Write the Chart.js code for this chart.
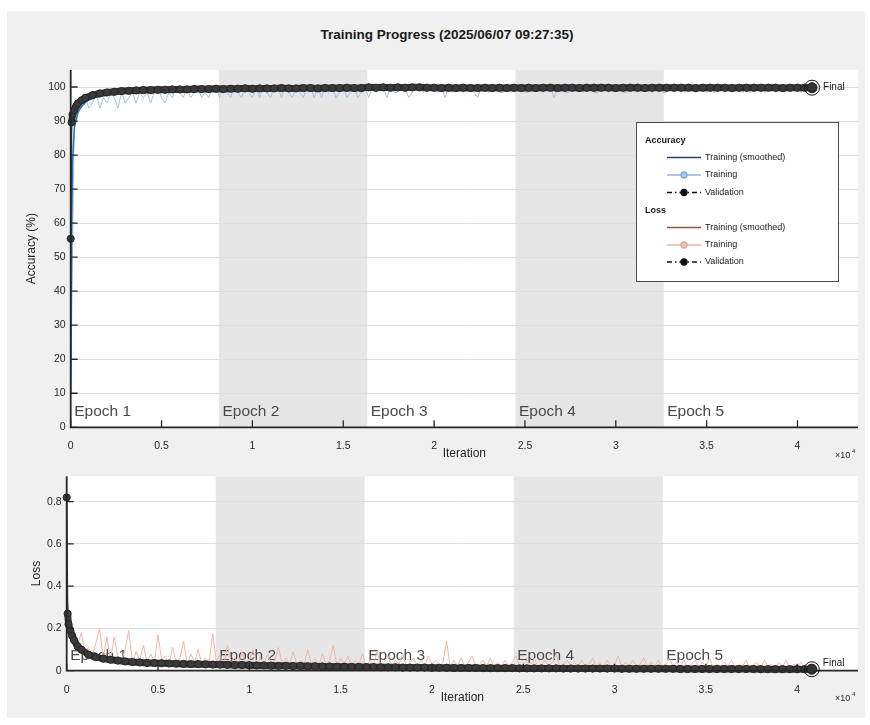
<!DOCTYPE html>
<html>
<head>
<meta charset="utf-8">
<script src="https://cdn.jsdelivr.net/npm/chart.js@4.4.1/dist/chart.umd.min.js"></script>
<style>
  body { margin: 0; width: 870px; height: 725px; background: #ffffff; position: relative; overflow: hidden; font-family: "Liberation Sans", Arial, sans-serif; }
  #panel { position: absolute; left: 7px; top: 11px; width: 858px; height: 707px; background: #f0f0f0; }
  #title { position: absolute; left: 0; top: 27px; width: 894px; text-align: center; font-weight: bold; font-size: 13.5px; line-height: 16px; color: #1a1a1a; }
  #accChart { position: absolute; left: 0; top: 0; }
  #lossChart { position: absolute; left: 0; top: 465px; }
</style>
</head>
<body>
<div id="panel"></div>
<div id="title">Training Progress (2025/06/07 09:27:35)</div>
<canvas id="accChart" width="870" height="465"></canvas>
<canvas id="lossChart" width="870" height="255"></canvas>
<script>
// iterations
const X_MAX = 43330;
const RAW_STEP = 200;
const epochStarts = [0, 8160, 16320, 24480, 32640];
const epochNames = ['Epoch 1', 'Epoch 2', 'Epoch 3', 'Epoch 4', 'Epoch 5'];
const finalIter = 40800;

// tick positions
const iterTicks = [0, 5000, 10000, 15000, 20000, 25000, 30000, 35000, 40000];
const accTicks = [0, 10, 20, 30, 40, 50, 60, 70, 80, 90, 100];
const lossTicks = [0, 0.2, 0.4, 0.6, 0.8];

// mini-batch accuracy (%), one value every RAW_STEP iterations
const trainAcc = [
  9.4, 92.2, 95.3, 93.8, 96.9, 93.8, 95.3, 98.4, 93.8, 96.9, 95.3, 98.4, 96.9, 93.8, 98.4, 95.3, 96.9, 98.4, 95.3, 98.4,
  96.9, 98.4, 95.3, 98.4, 100, 96.9, 95.3, 98.4, 96.9, 100, 98.4, 96.9, 100, 96.9, 98.4, 100, 96.9, 98.4, 96.9, 100,
  100, 96.9, 100, 98.4, 96.9, 100, 98.4, 96.9, 100, 98.4, 96.9, 100, 96.9, 100, 98.4, 96.9, 100, 100, 96.9, 100,
  98.4, 96.9, 100, 98.4, 96.9, 100, 100, 96.9, 100, 96.9, 100, 98.4, 100, 96.9, 98.4, 100, 96.9, 98.4, 100, 96.9,
  98.4, 100, 96.9, 100, 98.4, 100, 100, 96.9, 100, 98.4, 98.4, 100, 100, 96.9, 98.4, 100, 100, 98.4, 100, 100,
  100, 98.4, 100, 96.9, 100, 98.4, 100, 100, 98.4, 100, 100, 98.4, 96.9, 100, 100, 98.4, 100, 100, 98.4, 98.4,
  100, 100, 98.4, 100, 100, 98.4, 98.4, 100, 100, 100, 98.4, 100, 100, 96.9, 100, 100, 98.4, 98.4, 100, 100,
  100, 98.4, 100, 100, 98.4, 98.4, 100, 100, 98.4, 100, 100, 100, 98.4, 98.4, 100, 100, 98.4, 100, 100, 100,
  98.4, 100, 100, 98.4, 98.4, 100, 100, 100, 100, 98.4, 100, 100, 98.4, 100, 100, 98.4, 100, 98.4, 100, 100,
  100, 100, 98.4, 100, 100, 98.4, 100, 98.4, 100, 100, 100, 98.4, 100, 100, 98.4, 100, 98.4, 100, 100, 100,
  100, 98.4, 100, 100, 100
];

// mini-batch loss, same iterations
const trainLoss = [
  0.38, 0.21, 0.15, 0.12, 0.18, 0.09, 0.11, 0.07, 0.13, 0.2, 0.06, 0.16, 0.05, 0.16, 0.07, 0.05, 0.1, 0.19, 0.04, 0.09,
  0.05, 0.12, 0.04, 0.08, 0.04, 0.17, 0.05, 0.07, 0.03, 0.11, 0.04, 0.06, 0.14, 0.03, 0.08, 0.04, 0.1, 0.03, 0.06, 0.04,
  0.175, 0.04, 0.08, 0.03, 0.12, 0.04, 0.06, 0.03, 0.09, 0.03, 0.05, 0.1, 0.03, 0.06, 0.03, 0.08, 0.03, 0.05, 0.11, 0.03,
  0.06, 0.03, 0.09, 0.03, 0.05, 0.03, 0.1, 0.03, 0.06, 0.02, 0.08, 0.03, 0.05, 0.12, 0.02, 0.06, 0.03, 0.07, 0.02, 0.05,
  0.03, 0.08, 0.02, 0.05, 0.03, 0.09, 0.02, 0.04, 0.07, 0.02, 0.05, 0.03, 0.08, 0.02, 0.04, 0.06, 0.02, 0.05, 0.02, 0.07,
  0.03, 0.05, 0.02, 0.04, 0.14, 0.02, 0.05, 0.02, 0.06, 0.02, 0.04, 0.07, 0.02, 0.03, 0.05, 0.02, 0.06, 0.02, 0.04, 0.02,
  0.05, 0.02, 0.04, 0.07, 0.02, 0.03, 0.05, 0.02, 0.06, 0.02, 0.03, 0.05, 0.02, 0.04, 0.08, 0.02, 0.03, 0.05, 0.02, 0.04,
  0.02, 0.05, 0.02, 0.03, 0.06, 0.02, 0.04, 0.02, 0.05, 0.02, 0.03, 0.07, 0.02, 0.04, 0.02, 0.05, 0.02, 0.03, 0.06, 0.02,
  0.04, 0.02, 0.05, 0.02, 0.03, 0.06, 0.02, 0.04, 0.02, 0.05, 0.01, 0.03, 0.05, 0.02, 0.04, 0.02, 0.06, 0.01, 0.03, 0.02,
  0.04, 0.02, 0.05, 0.01, 0.03, 0.02, 0.05, 0.01, 0.03, 0.04, 0.01, 0.05, 0.02, 0.03, 0.01, 0.04, 0.02, 0.05, 0.01, 0.03,
  0.02, 0.04, 0.01, 0.03, 0.02
];

// smoothed training curves
const smoothIter = [0, 50, 100, 200, 400, 600, 800, 1000, 1500, 2000, 3000, 4000, 6000, 8000, 12000, 16000, 20000, 24000, 28000, 32000, 36000, 40800];
const smoothAcc = [10, 55, 78, 88, 92.5, 94.3, 95.4, 96.2, 97.3, 97.9, 98.5, 98.8, 99.1, 99.3, 99.4, 99.5, 99.55, 99.6, 99.6, 99.65, 99.7, 99.7];
const smoothLoss = [0.36, 0.3, 0.26, 0.21, 0.16, 0.13, 0.11, 0.095, 0.075, 0.062, 0.05, 0.043, 0.035, 0.03, 0.024, 0.02, 0.017, 0.015, 0.013, 0.012, 0.011, 0.01];

// validation: a few early checks, then every 400 iterations
const valIter = [0, 50, 100, 200, 300, 400, 600, 800].concat(Array.from({ length: 100 }, (_, i) => 1200 + i * 400));
const valAcc = [
  55.4, 89.6, 91.9, 93.2, 94.4, 95.2, 96.1, 96.8,
  97.6, 98.1, 98.4, 98.6, 98.8, 98.9, 99.0, 99.1, 99.1, 99.2,
  99.2, 99.3, 99.3, 99.3, 99.4, 99.4, 99.4, 99.5, 99.4, 99.5,
  99.5, 99.6, 99.5, 99.6, 99.6, 99.6, 99.7, 99.6, 99.6, 99.7,
  99.7, 99.6, 99.7, 99.7, 99.7, 99.8, 99.7, 99.7, 99.9, 99.8,
  99.9, 99.8, 99.9, 99.8, 99.9, 99.9, 99.8, 99.8, 99.7, 99.8,
  99.7, 99.8, 99.7, 99.7, 99.8, 99.7, 99.8, 99.7, 99.8, 99.7,
  99.8, 99.7, 99.8, 99.8, 99.7, 99.8, 99.8, 99.7, 99.8, 99.8,
  99.8, 99.8, 99.7, 99.8, 99.8, 99.8, 99.7, 99.8, 99.8, 99.8,
  99.8, 99.8, 99.8, 99.7, 99.8, 99.8, 99.8, 99.8, 99.7, 99.8,
  99.8, 99.8, 99.8, 99.8, 99.8, 99.7, 99.8, 99.8, 99.8, 99.8
];
const valLoss = [
  0.82, 0.27, 0.22, 0.19, 0.165, 0.145, 0.115, 0.1,
  0.075, 0.064, 0.057, 0.052, 0.048, 0.044, 0.041, 0.039, 0.037, 0.036,
  0.035, 0.034, 0.033, 0.032, 0.031, 0.031, 0.03, 0.029, 0.029, 0.028,
  0.027, 0.027, 0.026, 0.025, 0.025, 0.024, 0.023, 0.023, 0.022, 0.022,
  0.021, 0.021, 0.02, 0.02, 0.019, 0.019, 0.018, 0.018, 0.017, 0.017,
  0.016, 0.016, 0.016, 0.015, 0.015, 0.015, 0.015, 0.014, 0.014, 0.014,
  0.013, 0.013, 0.013, 0.013, 0.012, 0.012, 0.012, 0.012, 0.012, 0.011,
  0.011, 0.011, 0.011, 0.011, 0.011, 0.01, 0.01, 0.01, 0.01, 0.01,
  0.01, 0.01, 0.01, 0.009, 0.009, 0.009, 0.009, 0.009, 0.009, 0.009,
  0.009, 0.008, 0.008, 0.008, 0.008, 0.008, 0.008, 0.008, 0.008, 0.008,
  0.008, 0.008, 0.007, 0.007, 0.007, 0.007, 0.007, 0.007, 0.007, 0.007
];

const rawIter = trainAcc.map((_, i) => i * RAW_STEP);
const pts = (xs, ys) => ys.map((y, i) => ({ x: xs[i], y: y }));

const FONT = '"Liberation Sans", Arial, sans-serif';
Chart.defaults.font.family = FONT;

// legend box drawn by hand (MATLAB style)
function drawLegend(ctx) {
  ctx.save();
  ctx.fillStyle = '#ffffff';
  ctx.strokeStyle = '#4d4d4d';
  ctx.lineWidth = 1;
  ctx.fillRect(636, 122, 202, 159);
  ctx.strokeRect(636.5, 122.5, 202, 159);
  ctx.textBaseline = 'middle';
  const rows = [
    { head: 'Accuracy', y: 141 },
    { text: 'Training (smoothed)', y: 157.5, color: '#23456e' },
    { text: 'Training', y: 175, color: '#8fb6dc', marker: '#a9cdea', mEdge: '#7ea9d2' },
    { text: 'Validation', y: 192.5, color: '#111111', marker: '#111111', dash: true },
    { head: 'Loss', y: 210.5 },
    { text: 'Training (smoothed)', y: 227.5, color: '#8f5a3e' },
    { text: 'Training', y: 245, color: '#e6b7a6', marker: '#f2c2b0', mEdge: '#e0a891' },
    { text: 'Validation', y: 262, color: '#111111', marker: '#111111', dash: true }
  ];
  rows.forEach(r => {
    if (r.head) {
      ctx.font = 'bold 9px ' + FONT;
      ctx.fillStyle = '#1a1a1a';
      ctx.fillText(r.head, 645, r.y);
      return;
    }
    ctx.strokeStyle = r.color;
    ctx.lineWidth = 1.3;
    ctx.setLineDash(r.dash ? [5, 3, 1.5, 3] : []);
    ctx.beginPath();
    ctx.moveTo(667, r.y);
    ctx.lineTo(701, r.y);
    ctx.stroke();
    ctx.setLineDash([]);
    if (r.marker) {
      ctx.fillStyle = r.marker;
      ctx.strokeStyle = r.mEdge || r.marker;
      ctx.beginPath();
      ctx.arc(684, r.y, 3, 0, Math.PI * 2);
      ctx.fill();
      ctx.stroke();
    }
    ctx.font = '9px ' + FONT;
    ctx.fillStyle = '#1a1a1a';
    ctx.fillText(r.text, 705, r.y);
  });
  ctx.restore();
}

function decor(p) {
  return {
    id: 'decor',
    beforeDraw(chart) {
      const { ctx, chartArea: a, scales: { x } } = chart;
      ctx.save();
      ctx.fillStyle = '#ffffff';
      ctx.fillRect(a.left, a.top, a.right - a.left, a.bottom - a.top);
      ctx.fillStyle = '#e6e6e6';
      for (let i = 1; i < epochStarts.length; i += 2) {
        const x0 = x.getPixelForValue(epochStarts[i]);
        const x1 = x.getPixelForValue(epochStarts[i + 1]);
        ctx.fillRect(x0, a.top, x1 - x0, a.bottom - a.top);
      }
      ctx.restore();
    },
    beforeDatasetsDraw(chart) {
      const { ctx, chartArea: a, scales: { x } } = chart;
      ctx.save();
      ctx.font = '15.5px ' + FONT;
      ctx.fillStyle = '#4a4a4a';
      ctx.textBaseline = 'alphabetic';
      epochStarts.forEach((s, i) => {
        ctx.fillText(epochNames[i], x.getPixelForValue(s) + 3.5, a.bottom - 11);
      });
      ctx.restore();
    },
    afterDatasetsDraw(chart) {
      const { ctx, chartArea: a, scales: { x, y } } = chart;
      ctx.save();
      // axes
      ctx.strokeStyle = '#262626';
      ctx.lineWidth = 1.8;
      ctx.beginPath();
      ctx.moveTo(a.left, a.top);
      ctx.lineTo(a.left, a.bottom);
      ctx.lineTo(a.right, a.bottom);
      ctx.stroke();
      // inward ticks
      ctx.lineWidth = 1.3;
      ctx.beginPath();
      y.ticks.forEach(t => {
        const py = y.getPixelForValue(t.value);
        ctx.moveTo(a.left, py);
        ctx.lineTo(a.left + 7, py);
      });
      x.ticks.forEach(t => {
        const px = x.getPixelForValue(t.value);
        ctx.moveTo(px, a.bottom);
        ctx.lineTo(px, a.bottom - 7);
      });
      ctx.stroke();
      // final marker
      const fv = p.val[p.val.length - 1];
      const fx = x.getPixelForValue(finalIter);
      const fy = y.getPixelForValue(fv);
      ctx.fillStyle = '#333333';
      ctx.strokeStyle = '#111111';
      ctx.lineWidth = 1;
      ctx.beginPath();
      ctx.arc(fx, fy, 5, 0, Math.PI * 2);
      ctx.fill();
      ctx.stroke();
      ctx.beginPath();
      ctx.arc(fx, fy, 7.5, 0, Math.PI * 2);
      ctx.stroke();
      ctx.font = '10px ' + FONT;
      ctx.fillStyle = '#1a1a1a';
      ctx.textBaseline = 'middle';
      ctx.fillText('Final', fx + 11, Math.min(fy, a.bottom - 7));
      // x10^4 exponent
      ctx.font = '9px ' + FONT;
      ctx.fillStyle = '#262626';
      ctx.fillText('\u00d710', 835, a.bottom + 28);
      ctx.font = '6px ' + FONT;
      ctx.fillText('4', 852, a.bottom + 24);
      ctx.restore();
    },
    afterDraw(chart) {
      if (p.legend) drawLegend(chart.ctx);
    }
  };
}

function buildChart(el, p) {
  return new Chart(el, {
    type: 'scatter',
    data: {
      datasets: [
        { label: 'Validation', data: pts(valIter, p.val), showLine: true, borderColor: '#3a3a3a', borderWidth: 7,
          segment: { borderWidth: c => (c.p0DataIndex === 0 ? 1.5 : 7) },
          pointRadius: 3.6, pointBackgroundColor: '#3a3a3a', pointBorderColor: '#262626', pointBorderWidth: 1, clip: 8 },
        { label: 'Training (smoothed)', data: pts(smoothIter, p.smooth), showLine: true, borderColor: p.smoothColor,
          borderWidth: 1.5, pointRadius: 0 },
        { label: 'Training', data: pts(rawIter, p.raw), showLine: true, borderColor: p.rawColor,
          borderWidth: 1, pointRadius: 0 }
      ]
    },
    options: {
      responsive: false,
      animation: false,
      events: [],
      layout: { padding: { left: p.padLeft, top: p.padTop, right: 12, bottom: p.padBottom } },
      plugins: { legend: { display: false }, tooltip: { enabled: false } },
      scales: {
        x: {
          type: 'linear', min: 0, max: X_MAX,
          afterFit: s => { s.height = p.xAxisH; },
          afterBuildTicks: s => { s.ticks = iterTicks.map(v => ({ value: v })); },
          grid: { display: false }, border: { display: false },
          ticks: { autoSkip: false, maxRotation: 0, padding: 5,
                   color: '#262626', font: { size: 10.5 }, callback: v => String(v / 1e4) },
          title: { display: true, text: 'Iteration', color: '#262626', font: { size: 12 }, padding: 0 }
        },
        y: {
          type: 'linear', min: 0, max: p.yMax,
          afterFit: s => { s.width = p.yAxisW; },
          afterBuildTicks: s => { s.ticks = p.yTicks.map(v => ({ value: v })); },
          grid: { color: '#dedede', drawTicks: false }, border: { display: false },
          ticks: { autoSkip: false, padding: 5, color: '#262626', font: { size: 10.5 },
                   callback: v => String(Number(v.toFixed(2))) },
          title: { display: true, text: p.yTitle, color: '#262626', font: { size: 12 }, padding: 0 }
        }
      }
    },
    plugins: [decor(p)]
  });
}

buildChart(document.getElementById('accChart'), {
  raw: trainAcc, smooth: smoothAcc, val: valAcc,
  rawColor: '#9ec4e8', smoothColor: '#1f78c8',
  yMax: 105, yTicks: accTicks, yTitle: 'Accuracy (%)',
  padLeft: 24.3, yAxisW: 46.4, padTop: 70, padBottom: 4.3, xAxisH: 33.4,
  legend: true
});

buildChart(document.getElementById('lossChart'), {
  raw: trainLoss, smooth: smoothLoss, val: valLoss,
  rawColor: '#efb8a2', smoothColor: '#e2531b',
  yMax: 0.92, yTicks: lossTicks, yTitle: 'Loss',
  padLeft: 29.8, yAxisW: 36.9, padTop: 8.3, padBottom: 15.3, xAxisH: 34,
  legend: false
});
</script>
</body>
</html>
